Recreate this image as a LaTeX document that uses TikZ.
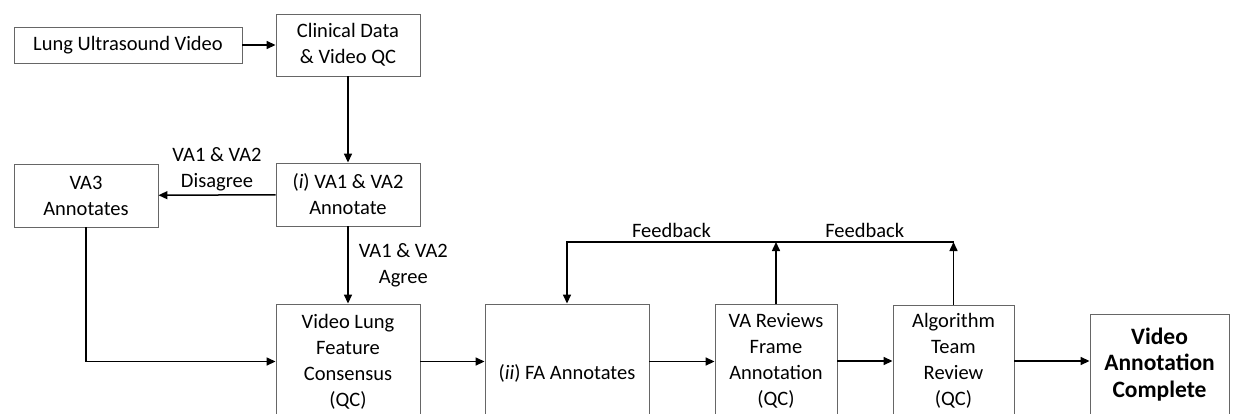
\documentclass[tikz,border=0pt]{standalone}
\usepackage{fontspec}
\setmainfont{Carlito}
\usetikzlibrary{arrows.meta}
\begin{document}
\begin{tikzpicture}[x=1pt, y=-1pt,
  every node/.style={font=\fontsize{20.5}{26}\selectfont, align=center, inner sep=0pt},
  box/.style={draw=black!60, line width=0.9pt},
  flow/.style={-{Triangle[length=9pt,width=8pt]}, line width=1.5pt}]
\useasboundingbox (0,0) rectangle (1233,413);
% top row
\node[box, minimum width=228, minimum height=36] (luv) at (128,45) {Lung Ultrasound Video};
\node[box, minimum width=144, minimum height=62] (cdq) at (348,45) {Clinical Data\\\& Video QC};
\node[box, minimum width=144, minimum height=63] (ann) at (348,194.5) {(\textit{i}) VA1 \& VA2\\Annotate};
\node[box, minimum width=144, minimum height=63] (va3) at (86,195.5) {VA3\\Annotates};
% bottom row
\node[box, minimum width=144, minimum height=115] (vlf) at (348,361.5) {Video Lung\\Feature\\Consensus\\(QC)};
\node[box, minimum width=164, minimum height=138] (fa) at (567,373) {(\textit{ii}) FA Annotates};
\node[box, minimum width=122, minimum height=114] (var) at (776,361) {VA Reviews\\Frame\\Annotation\\(QC)};
\node[box, minimum width=121, minimum height=112] (alg) at (953.5,361) {Algorithm\\Team\\Review\\(QC)};
\node[box, minimum width=139, minimum height=100, font=\fontsize{23.5}{26.5}\selectfont\bfseries] (vac) at (1159.5,364.5) {Video\\Annotation\\Complete};
\coordinate (fb) at (776,242);
% connectors
\draw[flow] (luv) -- (cdq);
\draw[flow] (cdq) -- (ann);
\draw[flow] (ann) -- node[above=3pt]{VA1 \& VA2\\Disagree} (va3);
\draw[flow] (ann) -- node[right=10pt]{VA1 \& VA2\\Agree} (vlf);
\draw[flow] (va3) |- (vlf);
\draw[flow] (vlf) -- (vlf -| fa.west);
\draw[flow] (fa.east |- vlf) -- (var.west |- vlf);
\draw[flow] (var) -- (alg);
\draw[flow] (alg) -- (alg -| vac.west);
\draw[flow] (var) -- (var |- fb);
\draw[flow] (alg) -- (alg |- fb);
\draw[flow] (alg |- fb) -- node[above=4pt]{Feedback} (var |- fb)
  -- node[above=4pt]{Feedback} (fa |- fb) -- (fa.north);
\end{tikzpicture}
\end{document}
